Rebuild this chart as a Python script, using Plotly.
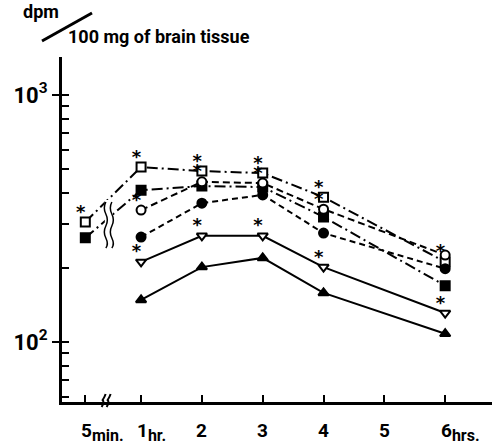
import plotly.graph_objects as go

# time in hours (5 min = 5/60 h)
times_hr = [5/60, 1, 2, 3, 4, 6]
x_tick_vals = [5/60, 1, 2, 3, 4, 5, 6]
x_tick_main = ["5", "1", "2", "3", "4", "5", "6"]
x_tick_sub = ["min.", "hr.", "", "", "", "", "hrs."]

open_square = [306, 511, 492, 483, 386, 211]
filled_square = [264, 412, 428, 424, 321, 169]
open_circle = [None, 342, 445, 440, 345, 225]
filled_circle = [None, 266, 365, 394, 276, 198]
open_triangle = [None, 211, 269, 269, 201, 131]
filled_triangle = [None, 148, 201, 219, 158, 108]

# significance asterisks (1 = marked)
star_open_square = [1, 1, 1, 1, 1, 1]
star_open_circle = [0, 1, 1, 1, 1, 0]
star_open_triangle = [0, 1, 1, 1, 1, 1]

y_tick_vals = [100, 1000]
y_tick_text = ["<b>10<sup>2</sup></b>", "<b>10<sup>3</sup></b>"]
y_minor_vals = [60, 70, 80, 90, 100, 200, 300, 400, 500, 600, 700, 800, 900, 1000]

FONT = "Roboto, Liberation Sans, sans-serif"

# plot area target: x 62..492, y 57..402
W, H = 494, 444
ML, MR, MT, MB = 62, 2, 57, 42
PW, PH = W - ML - MR, H - MT - MB


def px(xp):
    return (xp - ML) / PW


def py(yp):
    return (H - MB - yp) / PH


series = [
    (open_square, "square", "white", "11px,4px,2px,4px"),
    (filled_square, "square", "black", "11px,4px,2px,4px"),
    (open_circle, "circle", "white", "7px,4px"),
    (filled_circle, "circle", "black", "6px,4px"),
    (open_triangle, "triangle-down", "white", "solid"),
    (filled_triangle, "triangle-up", "black", "solid"),
]

fig = go.Figure()
for vals, sym, fill, dash in series:
    fig.add_trace(go.Scatter(
        x=times_hr, y=vals, mode="lines+markers",
        line=dict(color="black", width=2, dash=dash),
        marker=dict(symbol=sym, size=9, color=fill, line=dict(color="black", width=2)),
        showlegend=False, cliponaxis=False,
    ))

for vals, stars in [(open_square, star_open_square), (open_circle, star_open_circle),
                    (open_triangle, star_open_triangle)]:
    xs = [t for t, v, s in zip(times_hr, vals, stars) if s and v is not None]
    ys = [v for v, s in zip(vals, stars) if s and v is not None]
    fig.add_trace(go.Scatter(
        x=xs, y=ys, mode="text", text=["<b>*</b>"] * len(xs), textposition="top left",
        textfont=dict(family="DejaVu Sans", size=18, color="black"),
        showlegend=False, cliponaxis=False,
    ))

# x tick labels as annotations (number at tick, unit as subscript)
for xv, main, sub in zip(x_tick_vals, x_tick_main, x_tick_sub):
    txt = f"<b>{main}</b>" + (
        f"<sub><b><span style='font-size:16px'>{sub}</span></b></sub>" if sub else "")
    fig.add_annotation(
        x=xv, y=0, xref="x", yref="paper", text=txt, showarrow=False,
        xanchor="left" if sub else "center", xshift=-6 if sub else 0,
        yanchor="top", yshift=-15,
        font=dict(family=FONT, size=19, color="black"),
    )

# axis break on the x axis
break_x = 0.45
fig.add_shape(type="path", xref="x", yref="paper", xsizemode="pixel", ysizemode="pixel",
              xanchor=break_x, yanchor=0,
              path="M -6 -5 Q -3 0 -5 2 Q -3 5 -2 8 M -1 -5 Q 2 0 0 2 Q 2 5 3 8",
              line=dict(color="black", width=2), layer="above")
# wavy break across the early lines
fig.add_shape(type="rect", xref="x", yref="paper", xsizemode="pixel", ysizemode="pixel",
              xanchor=0.47, yanchor=py(224), x0=-4, x1=4, y0=-24, y1=24,
              fillcolor="white", line=dict(width=0), layer="above")
fig.add_shape(type="path", xref="x", yref="paper", xsizemode="pixel", ysizemode="pixel",
              xanchor=0.47, yanchor=py(224),
              path="M -3 22 Q -6 16 -3 10 Q 0 4 -3 -2 Q -6 -8 -3 -14 Q 0 -20 -3 -24 "
                   "M 3 22 Q 0 16 3 10 Q 6 4 3 -2 Q 0 -8 3 -14 Q 6 -20 3 -24",
              line=dict(color="black", width=1.5), layer="above")

# y-axis title: dpm / 100 mg of brain tissue
fig.add_shape(type="line", xref="paper", yref="paper",
              x0=px(42), y0=py(41), x1=px(92), y1=py(13),
              line=dict(color="black", width=3))
fig.add_annotation(x=px(41), y=py(11), xref="paper", yref="paper",
                   text="<b>dpm</b>", showarrow=False, xanchor="center", yanchor="middle",
                   font=dict(family=FONT, size=18, color="black"))
fig.add_annotation(x=px(66), y=py(37), xref="paper", yref="paper",
                   text="<b>100 mg of brain tissue</b>", showarrow=False,
                   xanchor="left", yanchor="middle",
                   font=dict(family=FONT, size=18, color="black"))

fig.update_layout(
    width=W, height=H,
    margin=dict(l=ML, r=MR, t=MT, b=MB),
    plot_bgcolor="white", paper_bgcolor="white",
    xaxis=dict(range=[-0.30, 6.77], showgrid=False, zeroline=False,
               showline=True, linecolor="black", linewidth=3,
               tickvals=x_tick_vals, showticklabels=False,
               ticks="inside", ticklen=7, tickwidth=2, tickcolor="black"),
    yaxis=dict(type="log", range=[1.757, 3.154], showgrid=False, zeroline=False,
               showline=True, linecolor="black", linewidth=3,
               tickvals=y_tick_vals, ticktext=y_tick_text,
               ticks="outside", ticklen=7, tickwidth=2, tickcolor="black",
               tickfont=dict(family=FONT, size=22, color="black"),
               minor=dict(tickvals=y_minor_vals, ticks="inside", ticklen=7,
                          tickwidth=2, tickcolor="black", showgrid=False)),
)

fig.write_html("out.html", config={"displayModeBar": False},
               post_script="document.body.style.margin='0';document.body.style.overflow='hidden';")
